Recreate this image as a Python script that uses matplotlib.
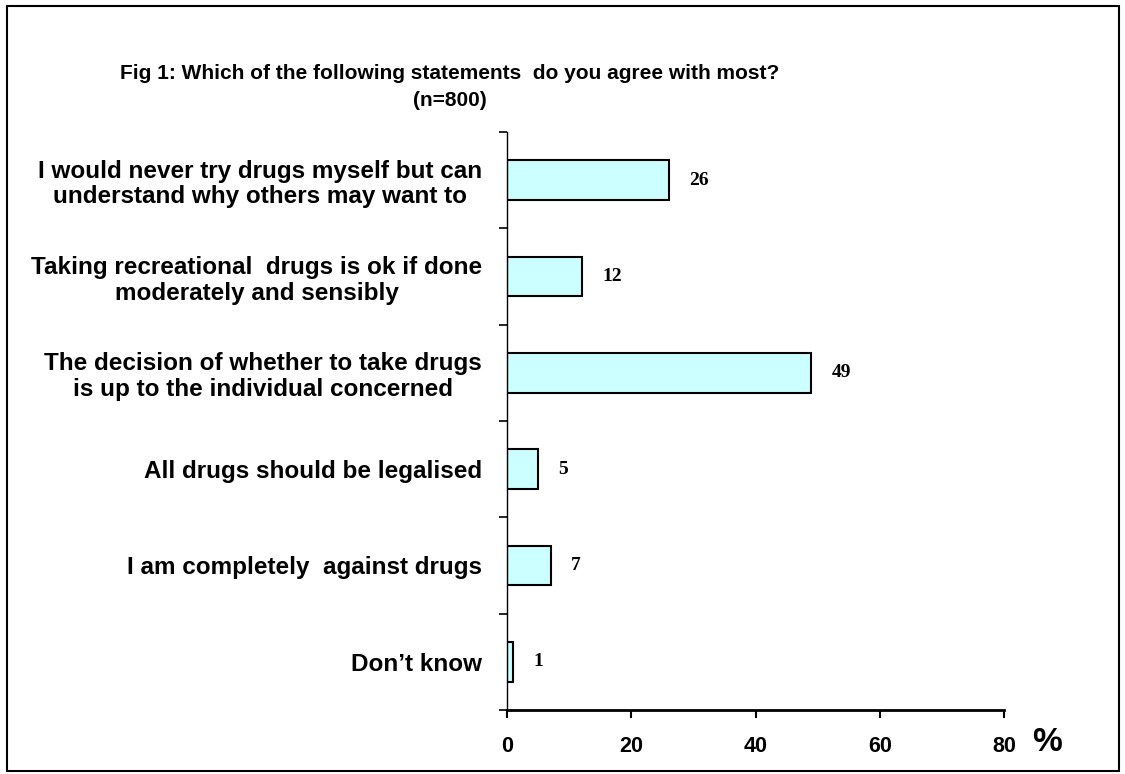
import matplotlib.pyplot as plt
from matplotlib.patches import Rectangle

# survey answers, listed top to bottom
statements = [
    "I would never try drugs myself but can\nunderstand why others may want to",
    "Taking recreational  drugs is ok if done\nmoderately and sensibly",
    "The decision of whether to take drugs\nis up to the individual concerned",
    "All drugs should be legalised",
    "I am completely  against drugs",
    "Don\u2019t know",
]
percent = [26, 12, 49, 5, 7, 1]
xticks = [0, 20, 40, 60, 80]

plt.rcParams['font.family'] = ['Liberation Sans', 'DejaVu Sans']

fig = plt.figure(figsize=(11.25, 7.74), dpi=100)
ax = fig.add_axes([0.4507, 0.0827, 0.4418, 0.7468])

# reverse so the first statement sits at the top
ypos = list(range(len(statements)))[::-1]
ax.barh(ypos, percent, height=0.41, color='#CCFFFF', edgecolor='black', linewidth=1.5)

for y, v in zip(ypos, percent):
    ax.text(v + 3.3, y, str(v), ha='left', va='center', fontsize=14,
            fontweight='bold', family='Liberation Serif')

ax.set_xlim(0, 80)
ax.set_ylim(-0.5, len(statements) - 0.5)

ax.set_xticks(xticks)
ax.set_xticklabels([str(t) for t in xticks], fontsize=15.5, fontweight='bold')
ax.tick_params(axis='x', direction='out', length=6, width=1.5, pad=13)

# boundary ticks on the y axis, labels at bar centres
ax.set_yticks([i - 0.5 for i in range(len(statements) + 1)])
ax.set_yticklabels([])
ax.tick_params(axis='y', which='major', direction='out', length=6, width=1.2)
ax.set_yticks(ypos, minor=True)
ax.set_yticklabels(statements, minor=True, fontsize=17.5, fontweight='bold',
                   multialignment='center', linespacing=1.15)
ax.tick_params(axis='y', which='minor', length=0, pad=18)

ax.spines['top'].set_visible(False)
ax.spines['right'].set_visible(False)
ax.spines['left'].set_linewidth(1.0)
ax.spines['bottom'].set_linewidth(2.0)

ax.text(1.087, -0.056, "%", transform=ax.transAxes, ha='center', va='center',
        fontsize=24, fontweight='bold')

fig.text(0.40, 0.905, "Fig 1: Which of the following statements  do you agree with most?",
         ha='center', va='center', fontsize=15, fontweight='bold')
fig.text(0.40, 0.870, "(n=800)", ha='center', va='center', fontsize=15, fontweight='bold')

# frame around the whole figure
fig.patches.append(Rectangle((0.006, 0.004), 0.989, 0.988, transform=fig.transFigure,
                             fill=False, edgecolor='black', linewidth=1.5))

fig.savefig('out.png', dpi=100)
